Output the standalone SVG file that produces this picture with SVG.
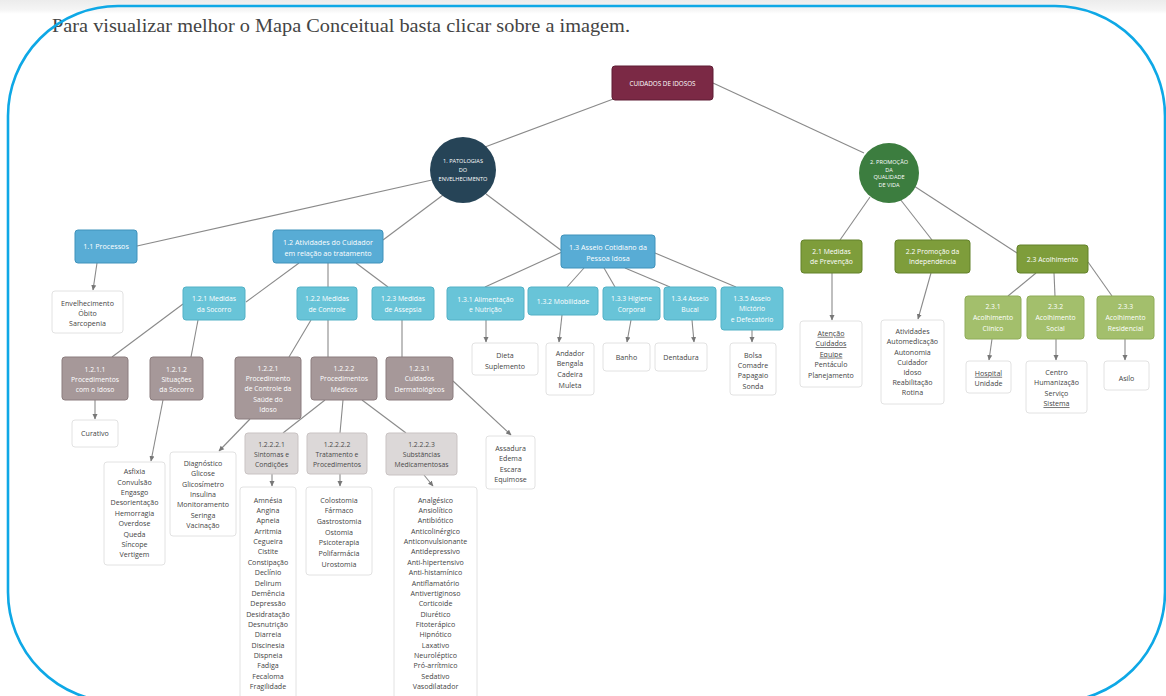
<svg xmlns="http://www.w3.org/2000/svg" width="1166" height="696" viewBox="0 0 1166 696">
  <defs>
    <linearGradient id="topband" x1="0" y1="0" x2="0" y2="1">
      <stop offset="0" stop-color="#ececec"/>
      <stop offset="0.7" stop-color="#f5f5f5"/>
      <stop offset="1" stop-color="#ffffff"/>
    </linearGradient>
    <marker id="arr" markerUnits="userSpaceOnUse" markerWidth="6" markerHeight="6" refX="5" refY="3" orient="auto">
      <path d="M0,0.5 L5.5,3 L0,5.5 z" fill="#777"/>
    </marker>
    <style>
      .edge { fill: none; stroke: #8a8a8a; stroke-width: 1.1; }
      .arrow { fill: none; stroke: #8a8a8a; stroke-width: 1.1; marker-end: url(#arr); }
      .lbl { font-family: "Open Sans", "Noto Sans", "DejaVu Sans", sans-serif; font-size: 6.8px; text-anchor: middle; fill: #ffffff; }
      .cap { font-family: "Open Sans", "Noto Sans", "DejaVu Sans", sans-serif; font-size: 5.6px; text-anchor: middle; fill: #ffffff; }
      .leaf { font-family: "Open Sans", "Noto Sans", "DejaVu Sans", sans-serif; font-size: 7.1px; text-anchor: middle; fill: #454545; }
      .dk { fill: #4a4a4a; }
      .u { text-decoration: underline; }
      .root { fill: #7b2945; stroke: #5f1d34; stroke-width: 1; }
      .blue { fill: #58acd5; stroke: #3f92bb; stroke-width: 1; }
      .cyan { fill: #68c4d8; stroke: #52b1c6; stroke-width: 1; }
      .taupe { fill: #a69899; stroke: #8b7d7e; stroke-width: 1; }
      .pale { fill: #dcd8d8; stroke: #c9c3c3; stroke-width: 1; }
      .olive { fill: #7e9d3b; stroke: #63812b; stroke-width: 1; }
      .lgreen { fill: #a3bf6c; stroke: #8fac58; stroke-width: 1; }
      .box { fill: #ffffff; stroke: #e2e2e2; stroke-width: 1; }
    </style>
  </defs>

  <!-- page background and top shadow band -->
  <rect x="0" y="0" width="1166" height="696" fill="#ffffff"/>
  <rect x="0" y="0" width="1166" height="14" fill="url(#topband)"/>

  <text x="52" y="32" font-family="Liberation Serif, serif" font-size="18" fill="#444444" textLength="578" lengthAdjust="spacingAndGlyphs">Para visualizar melhor o Mapa Conceitual basta clicar sobre a imagem.</text>

  <!-- connectors -->
  <g id="connectors">
    <path class="edge" d="M616,98 L485,147"/>
    <path class="edge" d="M713,83 L864,153"/>
    <path class="edge" d="M432,180 L137,246"/>
    <path class="edge" d="M443,195 L383,240"/>
    <path class="edge" d="M486,194 L562,251"/>
    <path class="edge" d="M870,197 L840,240"/>
    <path class="edge" d="M900,199 L932,240"/>
    <path class="edge" d="M914,186 L1017,253"/>
    <path class="edge" d="M299,263 L246,302"/>
    <path class="edge" d="M328,263 L328,287"/>
    <path class="edge" d="M356,263 L388,287"/>
    <path class="edge" d="M562,252 L485,287"/>
    <path class="edge" d="M584,268 L567,287"/>
    <path class="edge" d="M604,268 L615,287"/>
    <path class="edge" d="M625,268 L670,287"/>
    <path class="edge" d="M655,253 L736,287"/>
    <path class="edge" d="M183,304 L112,357"/>
    <path class="edge" d="M198,320 L191,357"/>
    <path class="edge" d="M311,320 L289,357"/>
    <path class="edge" d="M328,320 L328,357"/>
    <path class="edge" d="M402,320 L402,357"/>
    <path class="edge" d="M325,400 L283,433"/>
    <path class="edge" d="M343,400 L340,433"/>
    <path class="edge" d="M362,400 L406,433"/>
    <path class="edge" d="M1036,273 L1008,296"/>
    <path class="edge" d="M1054,273 L1055,296"/>
    <path class="edge" d="M1088,262 L1112,296"/>

    <path class="arrow" d="M97,263 L93,290"/>
    <path class="arrow" d="M486,320 L486,342"/>
    <path class="arrow" d="M562,315 L559,342"/>
    <path class="arrow" d="M631,320 L627,342"/>
    <path class="arrow" d="M692,320 L694,342"/>
    <path class="arrow" d="M752,330 L752,342"/>
    <path class="arrow" d="M95,400 L95,419"/>
    <path class="arrow" d="M163,400 L151,461"/>
    <path class="arrow" d="M250,419 L219,451"/>
    <path class="arrow" d="M453,381 L511,435"/>
    <path class="arrow" d="M272,474 L272,486"/>
    <path class="arrow" d="M340,474 L340,486"/>
    <path class="arrow" d="M424,475 L433,486"/>
    <path class="arrow" d="M832,273 L832,320"/>
    <path class="arrow" d="M931,273 L918,319"/>
    <path class="arrow" d="M992,339 L989,360"/>
    <path class="arrow" d="M1056,339 L1056,360"/>
    <path class="arrow" d="M1125,339 L1125,360"/>
  </g>

  <!-- root -->
  <g id="n-root">
    <rect class="root" x="612" y="66" width="101" height="34" rx="3"/>
    <text class="cap" x="662.5" y="85.5" style="font-size:6.3px">CUIDADOS DE IDOSOS</text>
  </g>

  <!-- main branches -->
  <g id="n-1">
    <circle cx="463" cy="170" r="33" fill="#264457"/>
    <text class="cap" x="463" y="163">1. PATOLOGIAS</text>
    <text class="cap" x="463" y="172">DO</text>
    <text class="cap" x="463" y="181">ENVELHECIMENTO</text>
  </g>
  <g id="n-2">
    <circle cx="889" cy="173" r="30" fill="#3c7d3f"/>
    <text class="cap" x="889" y="164">2. PROMOÇÃO</text>
    <text class="cap" x="889" y="171.5">DA</text>
    <text class="cap" x="889" y="179">QUALIDADE</text>
    <text class="cap" x="889" y="186.5">DE VIDA</text>
  </g>

  <!-- branch 1 : level 2 -->
  <g id="n-1-1">
    <rect class="blue" x="75" y="230" width="62" height="33" rx="3"/>
    <text class="lbl" x="106" y="249" style="font-size:7.2px">1.1 Processos</text>
  </g>
  <g id="n-1-2">
    <rect class="blue" x="273" y="230" width="110" height="33" rx="3"/>
    <text class="lbl" x="328" y="245" style="font-size:7.2px">1.2 Atividades do Cuidador</text>
    <text class="lbl" x="328" y="255.5" style="font-size:7.2px">em relação ao tratamento</text>
  </g>
  <g id="n-1-3">
    <rect class="blue" x="561" y="235" width="94" height="33" rx="3"/>
    <text class="lbl" x="608" y="250" style="font-size:7.2px">1.3 Asseio Cotidiano da</text>
    <text class="lbl" x="608" y="260.5" style="font-size:7.2px">Pessoa Idosa</text>
  </g>

  <!-- branch 1 : level 3 -->
  <g id="n-1-2-1">
    <rect class="cyan" x="183" y="287" width="62" height="33" rx="3"/>
    <text class="lbl" x="214" y="300.8">1.2.1 Medidas</text>
    <text class="lbl" x="214" y="311.8">da Socorro</text>
  </g>
  <g id="n-1-2-2">
    <rect class="cyan" x="297" y="287" width="60" height="33" rx="3"/>
    <text class="lbl" x="327" y="300.8">1.2.2 Medidas</text>
    <text class="lbl" x="327" y="311.8">de Controle</text>
  </g>
  <g id="n-1-2-3">
    <rect class="cyan" x="372" y="287" width="62" height="33" rx="3"/>
    <text class="lbl" x="403" y="300.8">1.2.3 Medidas</text>
    <text class="lbl" x="403" y="311.8">de Assepsia</text>
  </g>
  <g id="n-1-3-1">
    <rect class="cyan" x="447" y="287" width="77" height="33" rx="3"/>
    <text class="lbl" x="485.5" y="301.5">1.3.1 Alimentação</text>
    <text class="lbl" x="485.5" y="311.8">e Nutrição</text>
  </g>
  <g id="n-1-3-2">
    <rect class="cyan" x="528" y="287" width="70" height="28" rx="3"/>
    <text class="lbl" x="563" y="304">1.3.2 Mobilidade</text>
  </g>
  <g id="n-1-3-3">
    <rect class="cyan" x="603" y="287" width="57" height="33" rx="3"/>
    <text class="lbl" x="631.5" y="300.8">1.3.3 Higiene</text>
    <text class="lbl" x="631.5" y="311.8">Corporal</text>
  </g>
  <g id="n-1-3-4">
    <rect class="cyan" x="664" y="287" width="52" height="33" rx="3"/>
    <text class="lbl" x="690" y="300.8">1.3.4 Asseio</text>
    <text class="lbl" x="690" y="311.8">Bucal</text>
  </g>
  <g id="n-1-3-5">
    <rect class="cyan" x="721" y="287" width="62" height="43" rx="3"/>
    <text class="lbl" x="752" y="300.8">1.3.5 Asseio</text>
    <text class="lbl" x="752" y="311.3">Mictório</text>
    <text class="lbl" x="752" y="321.8">e Defecatório</text>
  </g>

  <!-- branch 1 : level 4 -->
  <g id="n-1-2-1-1">
    <rect class="taupe" x="62" y="357" width="66" height="43" rx="3"/>
    <text class="lbl" x="95" y="371.8">1.2.1.1</text>
    <text class="lbl" x="95" y="381.8">Procedimentos</text>
    <text class="lbl" x="95" y="391.8">com o Idoso</text>
  </g>
  <g id="n-1-2-1-2">
    <rect class="taupe" x="150" y="357" width="53" height="43" rx="3"/>
    <text class="lbl" x="176.5" y="371.8">1.2.1.2</text>
    <text class="lbl" x="176.5" y="381.8">Situações</text>
    <text class="lbl" x="176.5" y="391.8">da Socorro</text>
  </g>
  <g id="n-1-2-2-1">
    <rect class="taupe" x="235" y="357" width="66" height="62" rx="3"/>
    <text class="lbl" x="268" y="370.8">1.2.2.1</text>
    <text class="lbl" x="268" y="380.8">Procedimento</text>
    <text class="lbl" x="268" y="391">de Controle da</text>
    <text class="lbl" x="268" y="401.6">Saúde do</text>
    <text class="lbl" x="268" y="411.8">Idoso</text>
  </g>
  <g id="n-1-2-2-2">
    <rect class="taupe" x="311" y="357" width="66" height="43" rx="3"/>
    <text class="lbl" x="344" y="370.8">1.2.2.2</text>
    <text class="lbl" x="344" y="380.8">Procedimentos</text>
    <text class="lbl" x="344" y="391.8">Médicos</text>
  </g>
  <g id="n-1-2-3-1">
    <rect class="taupe" x="386" y="357" width="67" height="43" rx="3"/>
    <text class="lbl" x="419.5" y="370.8">1.2.3.1</text>
    <text class="lbl" x="419.5" y="380.8">Cuidados</text>
    <text class="lbl" x="419.5" y="391.8">Dermatológicos</text>
  </g>

  <!-- branch 1 : level 5 -->
  <g id="n-1-2-2-2-1">
    <rect class="pale" x="245" y="433" width="53" height="41" rx="3"/>
    <text class="lbl dk" x="271.5" y="446.5">1.2.2.2.1</text>
    <text class="lbl dk" x="271.5" y="456.5">Sintomas e</text>
    <text class="lbl dk" x="271.5" y="466.5">Condições</text>
  </g>
  <g id="n-1-2-2-2-2">
    <rect class="pale" x="307" y="433" width="60" height="41" rx="3"/>
    <text class="lbl dk" x="337" y="446.5">1.2.2.2.2</text>
    <text class="lbl dk" x="337" y="456.5">Tratamento e</text>
    <text class="lbl dk" x="337" y="466.5">Procedimentos</text>
  </g>
  <g id="n-1-2-2-2-3">
    <rect class="pale" x="386" y="433" width="71" height="42" rx="3"/>
    <text class="lbl dk" x="421.5" y="446.5">1.2.2.2.3</text>
    <text class="lbl dk" x="421.5" y="456.5">Substâncias</text>
    <text class="lbl dk" x="421.5" y="466.5">Medicamentosas</text>
  </g>

  <!-- leaf lists -->
  <g id="l-processos">
    <rect class="box" x="52" y="291" width="71" height="42" rx="3"/>
    <text class="leaf" x="87.5" y="305.5">Envelhecimento</text>
    <text class="leaf" x="87.5" y="315.5">Óbito</text>
    <text class="leaf" x="87.5" y="325.5">Sarcopenia</text>
  </g>
  <g id="l-curativo">
    <rect class="box" x="72" y="420" width="46" height="27" rx="3"/>
    <text class="leaf" x="95" y="436">Curativo</text>
  </g>
  <g id="l-socorro">
    <rect class="box" x="104" y="462" width="61" height="103" rx="3"/>
    <text class="leaf" x="134.5" y="474.2">Asfixia</text>
    <text class="leaf" x="134.5" y="484.6">Convulsão</text>
    <text class="leaf" x="134.5" y="495">Engasgo</text>
    <text class="leaf" x="134.5" y="505.4">Desorientação</text>
    <text class="leaf" x="134.5" y="515.8">Hemorragia</text>
    <text class="leaf" x="134.5" y="526.2">Overdose</text>
    <text class="leaf" x="134.5" y="536.6">Queda</text>
    <text class="leaf" x="134.5" y="547">Síncope</text>
    <text class="leaf" x="134.5" y="557.4">Vertigem</text>
  </g>
  <g id="l-controle">
    <rect class="box" x="170" y="452" width="66" height="84" rx="3"/>
    <text class="leaf" x="203" y="466">Diagnóstico</text>
    <text class="leaf" x="203" y="476.3">Glicose</text>
    <text class="leaf" x="203" y="486.6">Glicosímetro</text>
    <text class="leaf" x="203" y="496.9">Insulina</text>
    <text class="leaf" x="203" y="507.2">Monitoramento</text>
    <text class="leaf" x="203" y="517.5">Seringa</text>
    <text class="leaf" x="203" y="527.8">Vacinação</text>
  </g>
  <g id="l-sintomas">
    <rect class="box" x="240" y="487" width="56" height="215" rx="3"/>
    <text class="leaf" x="268" y="502.5">Amnésia</text>
    <text class="leaf" x="268" y="512.9">Angina</text>
    <text class="leaf" x="268" y="523.2">Apneia</text>
    <text class="leaf" x="268" y="533.6">Arritmia</text>
    <text class="leaf" x="268" y="544">Cegueira</text>
    <text class="leaf" x="268" y="554.4">Cistite</text>
    <text class="leaf" x="268" y="564.7">Constipação</text>
    <text class="leaf" x="268" y="575.1">Declínio</text>
    <text class="leaf" x="268" y="585.5">Delirum</text>
    <text class="leaf" x="268" y="595.8">Demência</text>
    <text class="leaf" x="268" y="606.2">Depressão</text>
    <text class="leaf" x="268" y="616.6">Desidratação</text>
    <text class="leaf" x="268" y="626.9">Desnutrição</text>
    <text class="leaf" x="268" y="637.3">Diarreia</text>
    <text class="leaf" x="268" y="647.7">Discinesia</text>
    <text class="leaf" x="268" y="658.1">Dispneia</text>
    <text class="leaf" x="268" y="668.4">Fadiga</text>
    <text class="leaf" x="268" y="678.8">Fecaloma</text>
    <text class="leaf" x="268" y="689.2">Fragilidade</text>
  </g>
  <g id="l-tratamento">
    <rect class="box" x="306" y="487" width="66" height="88" rx="3"/>
    <text class="leaf" x="339" y="502.5">Colostomia</text>
    <text class="leaf" x="339" y="513.2">Fármaco</text>
    <text class="leaf" x="339" y="523.8">Gastrostomia</text>
    <text class="leaf" x="339" y="534.5">Ostomia</text>
    <text class="leaf" x="339" y="545.2">Psicoterapia</text>
    <text class="leaf" x="339" y="555.8">Polifarmácia</text>
    <text class="leaf" x="339" y="566.5">Urostomia</text>
  </g>
  <g id="l-substancias">
    <rect class="box" x="394" y="487" width="83" height="215" rx="3"/>
    <text class="leaf" x="435.5" y="502.5">Analgésico</text>
    <text class="leaf" x="435.5" y="512.9">Ansiolítico</text>
    <text class="leaf" x="435.5" y="523.2">Antibiótico</text>
    <text class="leaf" x="435.5" y="533.6">Anticolinérgico</text>
    <text class="leaf" x="435.5" y="544">Anticonvulsionante</text>
    <text class="leaf" x="435.5" y="554.4">Antidepressivo</text>
    <text class="leaf" x="435.5" y="564.7">Anti-hipertensivo</text>
    <text class="leaf" x="435.5" y="575.1">Anti-histamínico</text>
    <text class="leaf" x="435.5" y="585.5">Antiflamatório</text>
    <text class="leaf" x="435.5" y="595.8">Antivertiginoso</text>
    <text class="leaf" x="435.5" y="606.2">Corticoide</text>
    <text class="leaf" x="435.5" y="616.6">Diurético</text>
    <text class="leaf" x="435.5" y="626.9">Fitoterápico</text>
    <text class="leaf" x="435.5" y="637.3">Hipnótico</text>
    <text class="leaf" x="435.5" y="647.7">Laxativo</text>
    <text class="leaf" x="435.5" y="658.1">Neuroléptico</text>
    <text class="leaf" x="435.5" y="668.4">Pró-arrítmico</text>
    <text class="leaf" x="435.5" y="678.8">Sedativo</text>
    <text class="leaf" x="435.5" y="689.2">Vasodilatador</text>
  </g>
  <g id="l-dermato">
    <rect class="box" x="486" y="436" width="49" height="53" rx="3"/>
    <text class="leaf" x="510.5" y="451">Assadura</text>
    <text class="leaf" x="510.5" y="461.3">Edema</text>
    <text class="leaf" x="510.5" y="471.6">Escara</text>
    <text class="leaf" x="510.5" y="482">Equimose</text>
  </g>
  <g id="l-alimentacao">
    <rect class="box" x="472" y="343" width="66" height="32" rx="3"/>
    <text class="leaf" x="505" y="357.5">Dieta</text>
    <text class="leaf" x="505" y="368.5">Suplemento</text>
  </g>
  <g id="l-mobilidade">
    <rect class="box" x="546" y="343" width="48" height="52" rx="3"/>
    <text class="leaf" x="570" y="355.7">Andador</text>
    <text class="leaf" x="570" y="366.3">Bengala</text>
    <text class="leaf" x="570" y="377">Cadeira</text>
    <text class="leaf" x="570" y="387.6">Muleta</text>
  </g>
  <g id="l-higiene">
    <rect class="box" x="603" y="343" width="47" height="28" rx="3"/>
    <text class="leaf" x="626.5" y="359.5">Banho</text>
  </g>
  <g id="l-bucal">
    <rect class="box" x="655" y="343" width="52" height="28" rx="3"/>
    <text class="leaf" x="681" y="359.5">Dentadura</text>
  </g>
  <g id="l-miccional">
    <rect class="box" x="730" y="343" width="46" height="52" rx="3"/>
    <text class="leaf" x="753" y="357.5">Bolsa</text>
    <text class="leaf" x="753" y="368">Comadre</text>
    <text class="leaf" x="753" y="378.3">Papagaio</text>
    <text class="leaf" x="753" y="388.5">Sonda</text>
  </g>

  <!-- branch 2 -->
  <g id="n-2-1">
    <rect class="olive" x="801" y="240" width="61" height="33" rx="3"/>
    <text class="lbl" x="831.5" y="254">2.1 Medidas</text>
    <text class="lbl" x="831.5" y="264.2">de Prevenção</text>
  </g>
  <g id="n-2-2">
    <rect class="olive" x="895" y="240" width="75" height="33" rx="3"/>
    <text class="lbl" x="932.5" y="254">2.2 Promoção da</text>
    <text class="lbl" x="932.5" y="264.2">Independência</text>
  </g>
  <g id="n-2-3">
    <rect class="olive" x="1017" y="245" width="71" height="28" rx="3"/>
    <text class="lbl" x="1052.5" y="261.8">2.3 Acolhimento</text>
  </g>
  <g id="n-2-3-1">
    <rect class="lgreen" x="965" y="296" width="56" height="43" rx="3"/>
    <text class="lbl" x="993" y="309.2">2.3.1</text>
    <text class="lbl" x="993" y="320.2">Acolhimento</text>
    <text class="lbl" x="993" y="331.4">Clínico</text>
  </g>
  <g id="n-2-3-2">
    <rect class="lgreen" x="1027" y="296" width="57" height="43" rx="3"/>
    <text class="lbl" x="1055.5" y="309.2">2.3.2</text>
    <text class="lbl" x="1055.5" y="320.2">Acolhimento</text>
    <text class="lbl" x="1055.5" y="331.4">Social</text>
  </g>
  <g id="n-2-3-3">
    <rect class="lgreen" x="1097" y="296" width="57" height="43" rx="3"/>
    <text class="lbl" x="1125.5" y="309.2">2.3.3</text>
    <text class="lbl" x="1125.5" y="320.2">Acolhimento</text>
    <text class="lbl" x="1125.5" y="331.4">Residencial</text>
  </g>

  <g id="l-prevencao">
    <rect class="box" x="800" y="321" width="62" height="66" rx="3"/>
    <text class="leaf u" x="831" y="335.8">Atenção</text>
    <text class="leaf u" x="831" y="346">Cuidados</text>
    <text class="leaf u" x="831" y="356.7">Equipe</text>
    <text class="leaf" x="831" y="367.4">Pentáculo</text>
    <text class="leaf" x="831" y="378">Planejamento</text>
  </g>
  <g id="l-independencia">
    <rect class="box" x="881" y="320" width="63" height="84" rx="3"/>
    <text class="leaf" x="912.5" y="334.2">Atividades</text>
    <text class="leaf" x="912.5" y="344.4">Automedicação</text>
    <text class="leaf" x="912.5" y="354.6">Autonomia</text>
    <text class="leaf" x="912.5" y="364.8">Cuidador</text>
    <text class="leaf" x="912.5" y="375">Idoso</text>
    <text class="leaf" x="912.5" y="385.2">Reabilitação</text>
    <text class="leaf" x="912.5" y="395.4">Rotina</text>
  </g>
  <g id="l-clinico">
    <rect class="box" x="966" y="361" width="45" height="32" rx="3"/>
    <text class="leaf u" x="988.5" y="375.8">Hospital</text>
    <text class="leaf" x="988.5" y="385.8">Unidade</text>
  </g>
  <g id="l-social">
    <rect class="box" x="1026" y="361" width="61" height="52" rx="3"/>
    <text class="leaf" x="1056.5" y="374.8">Centro</text>
    <text class="leaf" x="1056.5" y="384.8">Humanização</text>
    <text class="leaf" x="1056.5" y="395.6">Serviço</text>
    <text class="leaf u" x="1056.5" y="406.3">Sistema</text>
  </g>
  <g id="l-residencial">
    <rect class="box" x="1104" y="361" width="45" height="29" rx="3"/>
    <text class="leaf" x="1126.5" y="380.8">Asilo</text>
  </g>

  <!-- rounded highlight frame around the whole map -->
  <rect x="8" y="6" width="1157" height="696" rx="110" ry="110" fill="none" stroke="#0ea8e6" stroke-width="2.6"/>
</svg>
